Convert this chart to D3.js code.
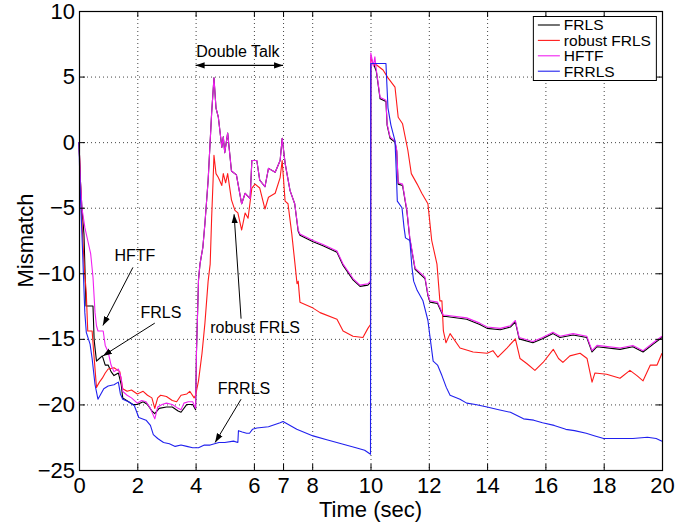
<!DOCTYPE html>
<html>
<head>
<meta charset="utf-8">
<script src="https://cdn.jsdelivr.net/npm/d3@7"></script>
<style>
  body { margin: 0; background: #fff; }
  svg { font-family: "Liberation Sans", Arial, Helvetica, sans-serif; }
  .grid line { stroke: #444; stroke-width: 1; stroke-dasharray: 1,3; }
  .axis path, .axis line { stroke: #000; }
  .axis text { font-size: 22px; fill: #000; }
</style>
</head>
<body>
<div id="chart"></div>
<script>
// tick values
const xTicks = [0, 2, 4, 6, 7, 8, 10, 12, 14, 16, 18, 20];
const yTicks = [-25, -20, -15, -10, -5, 0, 5, 10];

// series: [time (sec), mismatch]
const frls = [[0,0],[0.05,-3],[0.1,-5],[0.17,-7],[0.24,-12.5],[0.48,-12.5],[0.52,-15.1],[0.6,-16.7],[0.7,-16.5],[0.8,-16.3],[0.9,-17],[1,-17],[1.1,-17.5],[1.2,-17.8],[1.35,-17.6],[1.45,-18.5],[1.5,-19.5],[1.7,-19.8],[1.85,-20],[2,-20],[2.2,-19.8],[2.35,-20],[2.5,-20.5],[2.6,-20.7],[2.75,-20.3],[3,-20.2],[3.2,-20.2],[3.4,-20.5],[3.5,-20.6],[3.7,-20],[3.9,-20],[4,-20.4],[4.03,-16],[4.1,-10.5],[4.15,-9.3],[4.25,-8],[4.32,-6.2],[4.43,-2.9],[4.55,2.2],[4.63,4.9],[4.7,2.6],[4.78,1.9],[4.9,-0.4],[4.95,0.4],[5,-0.8],[5.1,0.7],[5.23,-2.2],[5.4,-2.5],[5.58,-4.7],[5.7,-3.9],[5.87,-4.3],[5.93,-1.4],[6.1,-1.4],[6.2,-2.9],[6.38,-3.4],[6.5,-2],[6.73,-2.3],[6.9,-1.4],[6.97,0.3],[7.07,-1.6],[7.24,-3.7],[7.4,-4.7],[7.52,-6.8],[7.58,-7.1],[8.03,-7.6],[8.37,-7.9],[8.85,-8.4],[9.06,-9.4],[9.4,-10.5],[9.64,-11],[9.91,-10.9],[10,-10.7],[10.01,6],[10.1,6],[10.2,5.4],[10.33,3.3],[10.53,3.1],[10.57,1.3],[10.67,0.3],[10.84,0],[10.9,-0.7],[10.95,-3.2],[11.1,-3.3],[11.25,-5.3],[11.35,-7.4],[11.53,-9.7],[11.87,-10.4],[11.97,-11.7],[12.04,-12.2],[12.3,-12.3],[12.5,-13.3],[12.6,-13.3],[13.3,-13.5],[13.75,-13.9],[14,-14.2],[14.45,-14.3],[14.8,-14.1],[14.97,-13.7],[15.1,-15],[15.57,-15.3],[15.9,-15],[16.26,-14.6],[16.5,-14.9],[16.95,-14.7],[17.42,-14.9],[17.6,-16],[17.77,-15.6],[18.56,-15.8],[19,-15.6],[19.35,-16],[19.7,-15.4],[20,-14.9]];

const robustFrls = [[0,0],[0.05,-3],[0.1,-6],[0.18,-9.5],[0.25,-11.5],[0.3,-14.4],[0.45,-14.4],[0.5,-15.9],[0.6,-18.7],[0.7,-18.3],[0.8,-18],[0.9,-17.6],[1,-17.3],[1.2,-17.2],[1.4,-17.5],[1.5,-18.8],[1.65,-19],[1.8,-18.9],[2,-19.2],[2.2,-19],[2.35,-19.3],[2.5,-19.5],[2.6,-20.3],[2.7,-19.5],[2.8,-19.3],[3,-19.4],[3.2,-19.7],[3.35,-19.8],[3.5,-19.3],[3.7,-19.2],[3.8,-19],[3.95,-19.5],[4,-19.3],[4.1,-18.2],[4.22,-16.1],[4.32,-13.8],[4.43,-10.6],[4.5,-9.3],[4.55,-5.8],[4.6,-2.9],[4.63,-1],[4.7,-2.4],[4.78,-2.7],[4.9,-3.3],[4.95,-2.4],[5.03,-3.1],[5.1,-2.4],[5.23,-4.4],[5.35,-5.2],[5.45,-5.4],[5.58,-6.7],[5.7,-5.4],[5.8,-5.8],[5.93,-3.5],[6.04,-3.2],[6.2,-3.5],[6.38,-5.1],[6.5,-4.2],[6.73,-3.9],[6.9,-2.7],[6.97,-1.4],[7.07,-4.5],[7.17,-4.7],[7.3,-7],[7.41,-9.3],[7.48,-10.8],[7.52,-10.6],[7.58,-12.2],[7.99,-12.6],[8.27,-13],[8.85,-13.5],[9.06,-14.4],[9.4,-14.8],[9.74,-14.9],[9.91,-14.2],[10,-13.9],[10.01,6.5],[10.1,5.9],[10.2,5.9],[10.43,5.5],[10.6,4.9],[10.84,4.2],[10.95,1.9],[11.1,1.4],[11.28,-0.6],[11.4,-2.4],[11.6,-3.2],[11.76,-3.9],[11.97,-4.7],[12.1,-7.5],[12.28,-9.3],[12.38,-12.1],[12.45,-12.1],[12.5,-14.4],[12.59,-15.3],[12.73,-14.6],[13.07,-15.7],[13.52,-16],[14,-16.1],[14.2,-15.9],[14.37,-16.4],[14.68,-15.7],[14.97,-15],[15.13,-16.5],[15.37,-16.9],[15.64,-17.4],[15.92,-16.8],[16.27,-15.8],[16.45,-16.5],[16.6,-16.8],[16.84,-16.3],[17.19,-16.1],[17.43,-16.5],[17.6,-18.3],[17.7,-17.6],[18.1,-17.7],[18.56,-18],[18.9,-17.4],[19.14,-17.8],[19.35,-18.2],[19.6,-17],[19.83,-17],[20,-16.1]];

const hftf = [[0,0],[0.05,-3],[0.1,-5],[0.2,-6.5],[0.3,-7.5],[0.4,-8.5],[0.48,-10.3],[0.55,-13],[0.6,-14],[0.65,-14.4],[0.83,-14.4],[0.9,-15.5],[1,-16],[1.1,-17],[1.2,-17.5],[1.35,-17.3],[1.45,-18],[1.5,-19],[1.65,-19.3],[1.8,-19.5],[2,-19.9],[2.15,-19.7],[2.3,-19.8],[2.45,-20.3],[2.6,-21.1],[2.7,-20.2],[2.85,-20],[3,-19.9],[3.2,-20],[3.4,-20.3],[3.5,-20.4],[3.6,-19.9],[3.75,-19.8],[3.9,-19.8],[4,-20.3],[4.03,-16],[4.1,-10.5],[4.15,-9.3],[4.25,-8],[4.32,-6.2],[4.43,-2.9],[4.55,2.2],[4.63,4.9],[4.7,2.6],[4.78,1.9],[4.9,-0.4],[4.95,0.4],[5,-0.8],[5.1,0.7],[5.23,-2.2],[5.4,-2.5],[5.58,-4.7],[5.7,-3.9],[5.87,-4.3],[5.93,-1.4],[6.1,-1.4],[6.2,-2.9],[6.38,-3.4],[6.5,-2],[6.73,-2.3],[6.9,-1.4],[6.97,0.3],[7.07,-1.6],[7.24,-3.7],[7.4,-4.7],[7.52,-6.7],[7.58,-7],[8.03,-7.5],[8.37,-7.8],[8.85,-8.3],[9.06,-9.3],[9.4,-10.4],[9.64,-10.9],[9.91,-10.8],[10,-10.6],[10.01,6.8],[10.1,5.8],[10.15,6.5],[10.2,5.5],[10.33,3.4],[10.43,3.3],[10.53,3.2],[10.57,1.4],[10.67,0.4],[10.84,0.1],[10.9,-0.6],[10.95,-3.1],[11.1,-3.2],[11.25,-5.2],[11.35,-7.3],[11.53,-9.6],[11.87,-10.3],[11.97,-11.6],[12.04,-12.1],[12.3,-12.2],[12.5,-13.2],[12.6,-13.2],[13.3,-13.4],[13.75,-13.8],[14,-14.1],[14.45,-14.2],[14.8,-14],[14.97,-13.6],[15.1,-14.9],[15.57,-15.2],[15.9,-14.9],[16.26,-14.5],[16.5,-14.8],[16.95,-14.6],[17.42,-14.8],[17.6,-15.9],[17.77,-15.5],[18.56,-15.7],[19,-15.5],[19.35,-15.9],[19.7,-15.3],[20,-14.8]];

const frrls = [[0,0],[0.03,-3],[0.1,-7],[0.2,-13],[0.25,-14.5],[0.38,-15.4],[0.45,-16.5],[0.55,-18.5],[0.65,-19.6],[0.75,-19.2],[0.85,-18.8],[1,-18.6],[1.2,-18.5],[1.35,-18.3],[1.42,-19.2],[1.5,-19.6],[1.7,-19.8],[1.9,-20.1],[2.05,-21],[2.3,-21.2],[2.45,-21.6],[2.55,-22.3],[2.7,-22.6],[2.9,-22.9],[3.1,-23],[3.3,-23.2],[3.5,-23.1],[3.7,-23.2],[3.9,-23.3],[4.1,-23.3],[4.3,-23.1],[4.5,-23.1],[4.8,-22.9],[5,-22.9],[5.3,-22.8],[5.45,-22.9],[5.47,-22],[5.6,-22.1],[5.75,-22.2],[5.85,-22.2],[5.95,-21.9],[6.1,-21.8],[6.5,-21.7],[6.9,-21.4],[7,-21.3],[7.47,-21.9],[8.03,-22.4],[8.5,-22.7],[9,-23],[9.5,-23.3],[9.8,-23.5],[10,-23.8],[10.01,6],[10.53,6],[10.56,4.5],[10.6,2.6],[10.7,1.3],[10.84,0.1],[10.88,-2],[10.92,-4.5],[11.08,-5],[11.15,-6.5],[11.2,-7.3],[11.35,-7.5],[11.42,-9.5],[11.48,-10.6],[11.6,-11.3],[11.8,-12.1],[11.97,-13.6],[12.05,-15],[12.15,-16.7],[12.3,-17],[12.45,-17.8],[12.6,-18.7],[12.73,-19.3],[13.07,-19.6],[13.3,-19.9],[13.6,-20],[14,-20.2],[14.4,-20.4],[14.8,-20.6],[15.25,-21.1],[15.6,-21.2],[15.9,-21.4],[16.3,-21.6],[16.7,-21.9],[17,-22],[17.4,-22.2],[17.7,-22.4],[18,-22.6],[18.45,-22.6],[19,-22.6],[19.5,-22.5],[19.8,-22.6],[20,-22.8]];

const seriesNames = ["FRLS", "robust FRLS", "HFTF", "FRRLS"];
const seriesColors = ["#000000", "#ff1a1a", "#f020f0", "#2020ee"];
const seriesData = [frls, robustFrls, hftf, frrls];

// annotations in data coords: label, text pos, arrow from, arrow to
const notes = [
  {label: "HFTF", tx: 1.92, ty: -8.65, x1: 1.85, y1: -9.55, x2: 0.82, y2: -13.98},
  {label: "FRLS", tx: 2.81, ty: -13.0, x1: 2.6, y1: -13.8, x2: 0.82, y2: -16.3},
  {label: "robust FRLS", tx: 6.04, ty: -14.15, x1: 5.56, y1: -13.46, x2: 5.32, y2: -5.5},
  {label: "FRRLS", tx: 5.66, ty: -18.8, x1: 5.56, y1: -19.6, x2: 4.67, y2: -22.9}
];

const width = 695, height = 524;
const margin = {top: 11, right: 33, bottom: 54, left: 79};
const iw = width - margin.left - margin.right;
const ih = height - margin.top - margin.bottom;

const x = d3.scaleLinear().domain([0, 20]).range([0, iw]);
const y = d3.scaleLinear().domain([-25, 10]).range([ih, 0]);

const svg = d3.select("#chart").append("svg")
  .attr("width", width)
  .attr("height", height);

const defs = svg.append("defs");
defs.append("marker")
  .attr("id", "head")
  .attr("viewBox", "0 0 10 10")
  .attr("refX", 10).attr("refY", 5)
  .attr("markerWidth", 9).attr("markerHeight", 9)
  .attr("markerUnits", "userSpaceOnUse")
  .attr("orient", "auto-start-reverse")
  .append("path").attr("d", "M0,1.5 L10,5 L0,8.5 Z").attr("fill", "#000");

const g = svg.append("g")
  .attr("transform", "translate(" + margin.left + "," + margin.top + ")");

// grid
g.append("g").attr("class", "grid")
  .selectAll("line").data(xTicks.filter(d => d > 0 && d < 20)).enter()
  .append("line")
  .attr("x1", d => x(d) + 0.5).attr("x2", d => x(d) + 0.5)
  .attr("y1", 0).attr("y2", ih);
g.append("g").attr("class", "grid")
  .selectAll("line").data(yTicks.filter(d => d > -25 && d < 10)).enter()
  .append("line")
  .attr("y1", d => y(d) + 0.5).attr("y2", d => y(d) + 0.5)
  .attr("x1", 0).attr("x2", iw);

// lines
const line = d3.line().x(d => x(d[0])).y(d => y(d[1]));
g.append("g").selectAll("path").data(seriesData).enter()
  .append("path")
  .attr("fill", "none")
  .attr("stroke", (d, i) => seriesColors[i])
  .attr("stroke-width", 1.1)
  .attr("stroke-linejoin", "round")
  .attr("d", line);

// axes (MATLAB style, ticks inward on all four sides)
const fmt = d3.format("d");
g.append("g").attr("class", "axis")
  .attr("transform", "translate(0," + ih + ")")
  .call(d3.axisBottom(x).tickValues(xTicks).tickFormat(fmt).tickSizeInner(-6).tickSizeOuter(0).tickPadding(7));
g.append("g").attr("class", "axis")
  .call(d3.axisLeft(y).tickValues(yTicks).tickFormat(fmt).tickSizeInner(-6).tickSizeOuter(0).tickPadding(4));
g.append("g").attr("class", "axis")
  .call(d3.axisTop(x).tickValues(xTicks).tickFormat("").tickSizeInner(-6).tickSizeOuter(0));
g.append("g").attr("class", "axis")
  .attr("transform", "translate(" + iw + ",0)")
  .call(d3.axisRight(y).tickValues(yTicks).tickFormat("").tickSizeInner(-6).tickSizeOuter(0));
g.append("rect")
  .attr("x", 0.5).attr("y", 0.5).attr("width", iw).attr("height", ih)
  .attr("fill", "none").attr("stroke", "#000").attr("stroke-width", 1.2);

// axis titles
svg.append("text")
  .attr("x", margin.left + iw / 2).attr("y", height - 7)
  .attr("text-anchor", "middle").attr("font-size", 22)
  .text("Time (sec)");
svg.append("text")
  .attr("transform", "translate(33," + (margin.top + ih / 2) + ") rotate(-90)")
  .attr("text-anchor", "middle").attr("font-size", 22)
  .text("Mismatch");

// double talk annotation
g.append("line")
  .attr("x1", x(4)).attr("x2", x(7))
  .attr("y1", y(5.85)).attr("y2", y(5.85))
  .attr("stroke", "#000").attr("stroke-width", 1.2)
  .attr("marker-start", "url(#head)").attr("marker-end", "url(#head)");
g.append("text")
  .attr("x", x(5.45)).attr("y", y(6.95)).attr("dy", "0.35em")
  .attr("text-anchor", "middle").attr("font-size", 16)
  .text("Double Talk");

// curve labels with arrows
const note = g.append("g").selectAll("g").data(notes).enter().append("g");
note.append("line")
  .attr("x1", d => x(d.x1)).attr("y1", d => y(d.y1))
  .attr("x2", d => x(d.x2)).attr("y2", d => y(d.y2))
  .attr("stroke", "#000").attr("stroke-width", 1)
  .attr("marker-end", "url(#head)");
note.append("text")
  .attr("x", d => x(d.tx)).attr("y", d => y(d.ty)).attr("dy", "0.35em")
  .attr("text-anchor", "middle").attr("font-size", 16)
  .text(d => d.label);

// legend
const legend = g.append("g").attr("transform", "translate(" + (x(15.57)) + "," + 5 + ")");
legend.append("rect")
  .attr("x", 0.5).attr("y", 0.5).attr("width", 123).attr("height", 64)
  .attr("fill", "#fff").attr("stroke", "#000");
const item = legend.selectAll(".item").data(seriesNames).enter().append("g")
  .attr("transform", (d, i) => "translate(0," + (9 + i * 15.4) + ")");
item.append("line")
  .attr("x1", 5).attr("x2", 27).attr("y1", 0).attr("y2", 0)
  .attr("stroke", (d, i) => seriesColors[i]).attr("stroke-width", 1.1);
item.append("text")
  .attr("x", 31).attr("dy", "0.35em").attr("font-size", 15.5)
  .text(d => d);
</script>
</body>
</html>
